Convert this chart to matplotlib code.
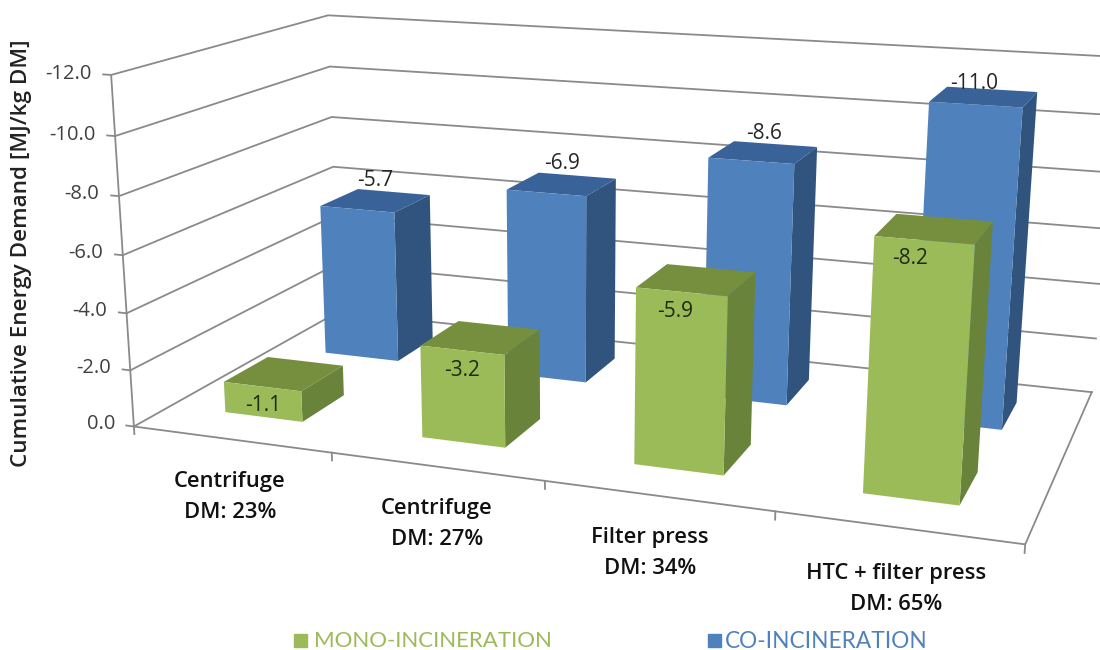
import numpy as np
import matplotlib
matplotlib.use("Agg")
import matplotlib.pyplot as plt
from matplotlib.patches import Rectangle

plt.rcParams['font.family'] = ['Open Sans', 'DejaVu Sans']

# dados do grafico
categorias = ["Centrifuge\nDM: 23%", "Centrifuge\nDM: 27%", "Filter press\nDM: 34%", "HTC + filter press\nDM: 65%"]
mono = [-1.1, -3.2, -5.9, -8.2]
co = [-5.7, -6.9, -8.6, -11.0]
z_ticks = [0.0, -2.0, -4.0, -6.0, -8.0, -10.0, -12.0]

L, H = 1100, 650

# calibracao da camera: (x, y, z) do grafico -> pixel da imagem
mundo = np.array([[0, 0, 0], [1, 0, 0], [2, 0, 0], [3, 0, 0], [4, 0, 0],
                  [4, 1, 0], [0, 1, 0], [0, 0, -12], [0, 1, -12], [4, 1, -12],
                  [0, 0, -6], [0, 1, -6]], float)
pixels = np.array([[134, 427], [332, 453], [545, 481], [776, 512], [1024, 545],
                   [1092, 391], [338, 312], [111, 75], [328, 16], [1118, 57],
                   [123, 253], [333, 167]], float)

A, b = [], []
for (x, y, z), (u, v) in zip(mundo, pixels):
    A.append([x, y, z, 1, 0, 0, 0, 0, -u * x, -u * y, -u * z])
    A.append([0, 0, 0, 0, x, y, z, 1, -v * x, -v * y, -v * z])
    b += [u, v]
p = np.linalg.lstsq(np.array(A), np.array(b), rcond=None)[0]
P = np.append(p, 1).reshape(3, 4)

fig = plt.figure(figsize=(L / 100, H / 100), dpi=100, facecolor='white')
# eixo quadrado porque o Axes3D sempre forca aspecto 1
ax = fig.add_axes([0, -(L - H) / 2 / H, 1, L / H], projection='3d')
ax.set_axis_off()
ax.computed_zorder = False


def proj_fixa():
    # pixel -> limites internos do eixo 2D
    x0, x1 = ax.viewLim.intervalx
    y0, y1 = ax.viewLim.intervaly
    escala = np.array([[(x1 - x0) / L, 0, x0],
                       [0, -(y1 - y0) / L, y0 + (y1 - y0) * (H + (L - H) / 2) / L],
                       [0, 0, 1]])
    Q = escala @ P
    return np.array([Q[0], Q[1], [0, 0, 0, -1], Q[2]])


ax.get_proj = proj_fixa


def texto(x, y, z, s, desvio=(0, 0), **kw):
    # texto na posicao projetada de um ponto do grafico (desvio em pixels)
    u, v, w = P @ np.array([x, y, z, 1.0])
    fig.text((u / w + desvio[0]) / L, 1 - (v / w + desvio[1]) / H, s, ha=kw.pop('ha', 'center'), va='center', **kw)


cinza = '#8a8a8a'
lw = 1.3

# grades nas paredes
for z in z_ticks:
    ax.plot([0, 0, 4], [0, 1, 1], [z, z, z], color=cinza, lw=lw, zorder=1)
    ax.plot([-0.04, 0], [0, 0], [z, z], color=cinza, lw=lw, zorder=1)
    texto(-0.1, 0, z, f"{z:.1f}", ha='right', fontsize=14.5, color='#404040')

# eixos
ax.plot([0, 0], [0, 0], [0, -12], color=cinza, lw=lw, zorder=1)
ax.plot([0, 4, 4], [0, 0, 1], [0, 0, 0], color=cinza, lw=lw, zorder=1)
for i in range(5):
    ax.plot([i, i], [0, 0], [0, 0.27], color=cinza, lw=lw, zorder=1)

# cores das faces: -z, +z (topo), frente, tras, esquerda, direita
vazio = (0, 0, 0, 0)
cores_mono = [vazio, '#758F3E', '#9BBB59', vazio, vazio, '#69833A']
cores_co = [vazio, '#386298', '#4F81BD', vazio, vazio, '#31547F']

x_mono, lar_mono = 0.285, 0.40
x_co, lar_co = 0.285, 0.405
y_mono, y_co, y_prof = 0.16, 0.655, 0.205

# ajuste fino dos rotulos das barras, em pixels
desvio_mono = [(0, 0), (0, 0), (-6, -2), (-13, -5)]
desvio_co = [(0, 0), (0, 0), (0, 3), (-11, 9)]

for i in range(4):
    ax.bar3d(i + x_co, y_co, 0, lar_co, y_prof, co[i], color=cores_co, shade=False, zorder=5 + i)
    ax.bar3d(i + x_mono, y_mono, 0, lar_mono, y_prof, mono[i], color=cores_mono, shade=False, zorder=10 + i)
    texto(i + x_co + lar_co / 2, y_co + y_prof / 2, co[i] - 0.75, f"{co[i]:.1f}", desvio_co[i],
          fontsize=15, color='#262626')
    texto(i + x_mono + lar_mono / 2, y_mono, mono[i] + 0.7, f"{mono[i]:.1f}", desvio_mono[i],
          fontsize=15, color='#1e2a12')

# rotulos das categorias
cx = [230, 437, 650, 896]
cy = [497, 524, 553, 589]
for c, px, py in zip(categorias, cx, cy):
    fig.text(px / L, 1 - py / H, c, ha='center', va='center', fontsize=15.8, fontweight='semibold',
             color='#111111', linespacing=1.6)

fig.text(22 / L, 1 - 253 / H, "Cumulative Energy Demand [MJ/kg DM]", rotation=90, ha='center', va='center',
         fontsize=16.2, fontweight='semibold', color='#222222')

# legenda
fig.add_artist(Rectangle((294 / L, 1 - 647 / H), 13 / L, 13 / H, transform=fig.transFigure, color='#9BBB59'))
fig.add_artist(Rectangle((708 / L, 1 - 647 / H), 13 / L, 13 / H, transform=fig.transFigure, color='#4F81BD'))
fig.text(314 / L, 1 - 641 / H, "MONO-INCINERATION", ha='left', va='center', fontsize=16, family='Lato', color='#9BBB59')
fig.text(725 / L, 1 - 641 / H, "CO-INCINERATION", ha='left', va='center', fontsize=16.3, family='Lato', color='#4F81BD')

fig.savefig("out.png", dpi=100)
